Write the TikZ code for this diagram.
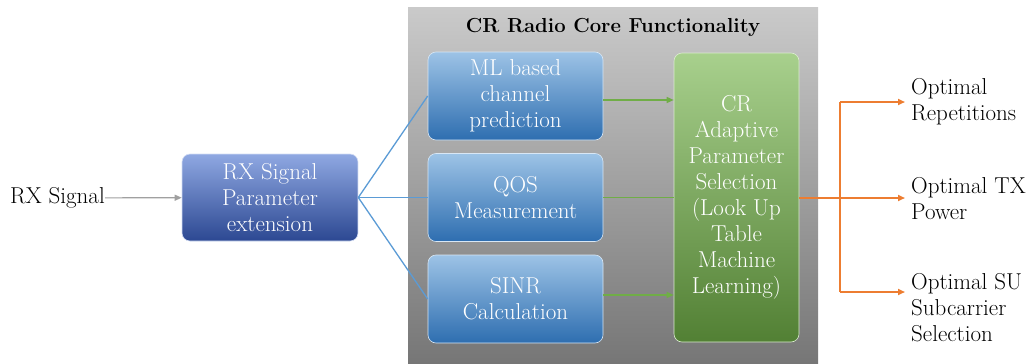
\documentclass[tikz,border=0pt]{standalone}
\usetikzlibrary{arrows.meta}

\definecolor{bluetop}{RGB}{157,195,230}
\definecolor{bluebot}{RGB}{46,110,176}
\definecolor{rxtop}{RGB}{143,168,226}
\definecolor{rxbot}{RGB}{44,72,146}
\definecolor{greentop}{RGB}{168,208,141}
\definecolor{greenbot}{RGB}{82,128,52}
\definecolor{graytop}{RGB}{202,202,202}
\definecolor{graybot}{RGB}{118,118,118}
\definecolor{bluelink}{RGB}{91,155,213}
\definecolor{greenlink}{RGB}{112,173,71}
\definecolor{orangelink}{RGB}{237,125,49}
\definecolor{graylink}{RGB}{160,160,160}

\begin{document}
\begin{tikzpicture}
          [x=1pt,y=-1pt,every node/.style={font=\rmfamily\fontsize{23}{26}\selectfont,inner sep=0pt,align=center},
           stagebox/.style={rounded corners=8pt,text=white,top color=bluetop,bottom color=bluebot,
                            draw=white!60!bluetop,line width=0.6pt,minimum width=175pt,minimum height=88pt},
           rxbox/.style={stagebox,top color=rxtop,bottom color=rxbot,draw=white!60!rxtop,minimum width=176pt,minimum height=87pt},
           selbox/.style={stagebox,top color=greentop,bottom color=greenbot,draw=white!60!greentop,minimum width=125pt,minimum height=289pt},
           outlabel/.style={anchor=west,align=left},
           tip/.style={-{Triangle[length=7pt,width=6pt]}}]

          \useasboundingbox (0,0) rectangle (1028,364);
          \shade[top color=graytop,bottom color=graybot] (408,7) rectangle (818,364);

          \node[font=\rmfamily\fontsize{20.3}{25}\selectfont\bfseries] (title) at (613,27) {CR Radio Core Functionality};

          \node[anchor=east] (rxin) at (105,198) {RX Signal};
          \node[rxbox] (rxp) at (270,197.5) {RX Signal\\Parameter\\extension};

          \node[stagebox] (ml) at (515.5,96) {ML based\\channel\\prediction};
          \node[stagebox] (qos) at (515.5,197.5) {QOS\\Measurement};
          \node[stagebox] (sinr) at (515.5,299) {SINR\\Calculation};

          \node[selbox] (cr) at (736.5,197.5) {CR\\Adaptive\\Parameter\\Selection\\(Look Up\\Table\\Machine\\Learning)};

          \coordinate (split) at (840,198);
          \coordinate (o1) at (905,102);
          \coordinate (o2) at (905,198);
          \coordinate (o3) at (905,292);

          \node[outlabel] (rep) at (911,102) {Optimal\\Repetitions};
          \node[outlabel] (txp) at (911,199) {Optimal TX\\Power};
          \node[outlabel] (sub) at (911,308) {Optimal SU\\Subcarrier\\Selection};

          \draw[graylink,line width=1.2pt,tip] (rxin) -- (rxp);

          \draw[bluelink,line width=1.3pt] (rxp.east) -- (ml.west);
          \draw[bluelink,line width=1.3pt] (rxp.east) -- (qos.west);
          \draw[bluelink,line width=1.3pt] (rxp.east) -- (sinr.west);

          \draw[greenlink,line width=1.4pt,tip] ([yshift=-4pt]ml.east) -- ([yshift=-4pt]ml.east -| cr.west);
          \draw[greenlink,line width=1.4pt] (qos.east) -- (qos.east -| cr.west);
          \draw[greenlink,line width=1.4pt,tip] ([yshift=4pt]sinr.east) -- ([yshift=4pt]sinr.east -| cr.west);

          \draw[orangelink,line width=1.8pt] (cr.east |- split) -- (split);
          \draw[orangelink,line width=1.8pt] (split |- o1) -- (split |- o3);
          \draw[orangelink,line width=1.8pt,tip] (split |- o1) -- (o1);
          \draw[orangelink,line width=1.8pt,tip] (split) -- (o2);
          \draw[orangelink,line width=1.8pt,tip] (split |- o3) -- (o3);
        \end{tikzpicture}
\end{document}
